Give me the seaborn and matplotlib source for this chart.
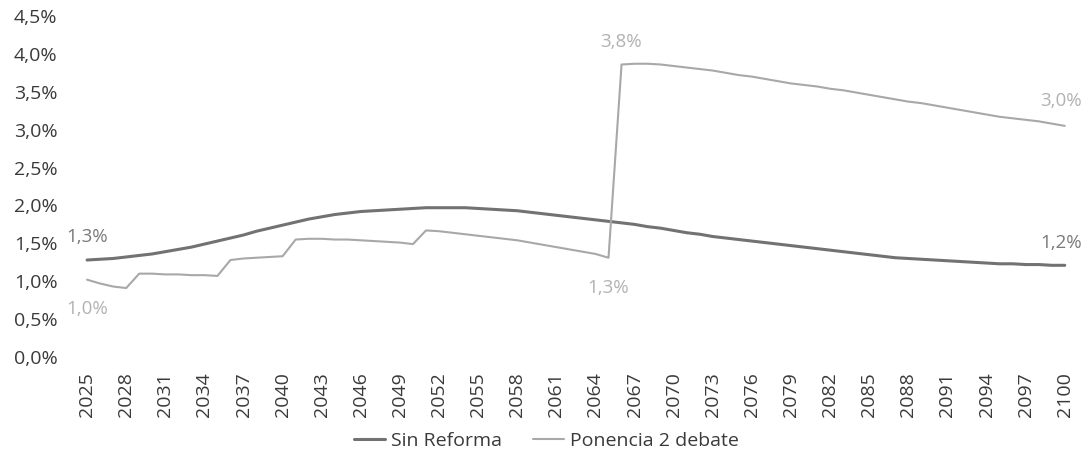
import matplotlib
matplotlib.use("Agg")
import matplotlib.pyplot as plt
import numpy as np
import pandas as pd
import seaborn as sns

years = list(range(2025, 2101))

sin_reforma = [
    1.28, 1.29, 1.30, 1.32, 1.34, 1.36, 1.39, 1.42, 1.45, 1.49,
    1.53, 1.57, 1.61, 1.66, 1.70, 1.74, 1.78, 1.82, 1.85, 1.88,
    1.90, 1.92, 1.93, 1.94, 1.95, 1.96, 1.97, 1.97, 1.97, 1.97,
    1.96, 1.95, 1.94, 1.93, 1.91, 1.89, 1.87, 1.85, 1.83, 1.81,
    1.79, 1.77, 1.75, 1.72, 1.70, 1.67, 1.64, 1.62, 1.59, 1.57,
    1.55, 1.53, 1.51, 1.49, 1.47, 1.45, 1.43, 1.41, 1.39, 1.37,
    1.35, 1.33, 1.31, 1.30, 1.29, 1.28, 1.27, 1.26, 1.25, 1.24,
    1.23, 1.23, 1.22, 1.22, 1.21, 1.21,
]

ponencia = [
    1.02, 0.97, 0.93, 0.91, 1.10, 1.10, 1.09, 1.09, 1.08, 1.08,
    1.07, 1.28, 1.30, 1.31, 1.32, 1.33, 1.55, 1.56, 1.56, 1.55,
    1.55, 1.54, 1.53, 1.52, 1.51, 1.49, 1.67, 1.66, 1.64, 1.62,
    1.60, 1.58, 1.56, 1.54, 1.51, 1.48, 1.45, 1.42, 1.39, 1.36,
    1.31, 3.86, 3.87, 3.87, 3.86, 3.84, 3.82, 3.80, 3.78, 3.75,
    3.72, 3.70, 3.67, 3.64, 3.61, 3.59, 3.57, 3.54, 3.52, 3.49,
    3.46, 3.43, 3.40, 3.37, 3.35, 3.32, 3.29, 3.26, 3.23, 3.20,
    3.17, 3.15, 3.13, 3.11, 3.08, 3.05,
]

series_names = ["Sin Reforma", "Ponencia 2 debate"]
series_colors = ["#727272", "#a8a8a8"]
series_widths = [2.2, 1.5]

# (serie, year, text, dx px, dy px)
point_labels = [
    (0, 2025, "1,3%", 0, 23),
    (1, 2025, "1,0%", 0, -29),
    (1, 2066, "3,8%", -1, 22),
    (1, 2065, "1,3%", 0, -30),
    (1, 2100, "3,0%", -4, 25),
    (0, 2100, "1,2%", -4, 22),
]

y_ticks = [0.0, 0.5, 1.0, 1.5, 2.0, 2.5, 3.0, 3.5, 4.0, 4.5]
x_ticks = years[::3]

sns.set_theme(style="white")
plt.rcParams["font.family"] = ["Open Sans", "DejaVu Sans"]

df = pd.DataFrame({"year": years, series_names[0]: sin_reforma, series_names[1]: ponencia})
long_df = df.melt(id_vars="year", var_name="serie", value_name="valor")

fig = plt.figure(figsize=(10.92, 4.63), dpi=100)
ax = fig.add_axes([0.0678, 1 - 357 / 463, 0.987 - 0.0678, (357 - 16) / 463])

for name, color, lw in zip(series_names, series_colors, series_widths):
    sns.lineplot(
        data=long_df[long_df["serie"] == name],
        x="year", y="valor", color=color, linewidth=lw, label=name, ax=ax,
    )

values = [sin_reforma, ponencia]
for s, yr, txt, dx, dy in point_labels:
    val = values[s][years.index(yr)]
    ax.annotate(
        txt, (yr, val), xytext=(dx, dy), textcoords="offset pixels",
        ha="center", va="center", fontsize=13.5,
        color="#7a7a7a" if s == 0 else "#b2b2b2",
    )

ax.set_xlim(2024, 2101)
ax.set_ylim(0, 4.5)
ax.set_yticks(y_ticks)
ax.set_yticklabels([f"{v:.1f}%".replace(".", ",") for v in y_ticks])
ax.set_xticks(x_ticks)
ax.set_xticklabels([str(y) for y in x_ticks], rotation=90)
ax.tick_params(axis="both", length=0, labelsize=14, labelcolor="#3a3a3a")
ax.tick_params(axis="y", pad=12)
ax.tick_params(axis="x", pad=11)
ax.set_xlabel("")
ax.set_ylabel("")
sns.despine(ax=ax, left=True, bottom=True)

handles, labels = ax.get_legend_handles_labels()
ax.get_legend().remove()
leg = fig.legend(
    handles, labels, loc="center", bbox_to_anchor=(0.5, 1 - 441 / 463),
    ncol=2, frameon=False, fontsize=14, handlelength=1.6,
    handletextpad=0.3, columnspacing=1.6,
)
for t in leg.get_texts():
    t.set_color("#3a3a3a")

fig.savefig("out.png", dpi=100)
